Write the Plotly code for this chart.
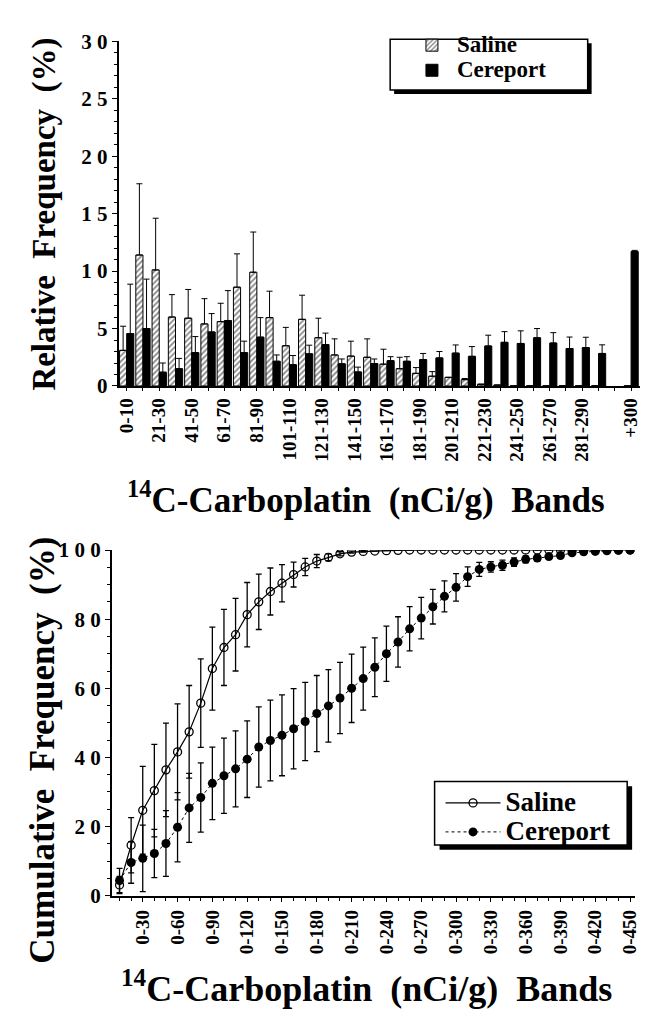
import plotly.graph_objects as go

# ---------------- data: top chart (relative frequency) ----------------
rel_bands = ["0-10", "11-20", "21-30", "31-40", "41-50", "51-60", "61-70", "71-80",
             "81-90", "91-100", "101-110", "111-120", "121-130", "131-140", "141-150",
             "151-160", "161-170", "171-180", "181-190", "191-200", "201-210", "211-220",
             "221-230", "231-240", "241-250", "251-260", "261-270", "271-280", "281-290",
             "291-300", "+300"]
rel_spacer = " "
rel_labeled = ["0-10", "21-30", "41-50", "61-70", "81-90", "101-110", "121-130",
               "141-150", "161-170", "181-190", "201-210", "221-230", "241-250",
               "261-270", "281-290", "+300"]
saline_rel = [3.1, 11.4, 10.1, 6.0, 5.9, 5.4, 5.6, 8.6, 9.9, 5.95, 3.5, 5.8, 4.2, 2.7,
              2.6, 2.5, 1.9, 1.5, 1.1, 0.85, 0.75, 0.55, 0.15, 0.08, 0, 0, 0, 0, 0, 0, 0]
saline_rel_err = [2.1, 6.2, 4.5, 1.95, 2.5, 2.2, 1.6, 2.9, 3.5, 2.3, 1.6, 2.1, 1.7, 1.4,
                  1.3, 1.6, 1.3, 1.0, 0.5, 0.4, 0.0, 0.1, 0.0, 0.0, 0, 0, 0, 0, 0, 0, 0]
cereport_rel = [4.56, 5.0, 1.2, 1.5, 2.9, 4.7, 5.7, 2.9, 4.25, 2.15, 1.85, 2.8, 3.6, 1.93,
                1.22, 1.95, 2.2, 2.15, 2.3, 2.44, 2.86, 2.58, 3.48, 3.8, 3.7, 4.2, 3.74,
                3.26, 3.34, 2.83, 11.7]
cereport_rel_err = [4.3, 4.3, 0.8, 0.9, 1.4, 1.6, 2.6, 1.0, 1.7, 0.55, 0.8, 0.75, 1.0, 0.42,
                    0.42, 0.4, 0.35, 0.4, 0.53, 0.56, 0.71, 0.85, 0.94, 0.93, 1.1, 0.8,
                    0.9, 1.0, 0.9, 0.75, 0.1]

# ---------------- data: bottom chart (cumulative frequency) ----------------
cum_bands = ["0-10", "0-20", "0-30", "0-40", "0-50", "0-60", "0-70", "0-80", "0-90",
             "0-100", "0-110", "0-120", "0-130", "0-140", "0-150", "0-160", "0-170",
             "0-180", "0-190", "0-200", "0-210", "0-220", "0-230", "0-240", "0-250",
             "0-260", "0-270", "0-280", "0-290", "0-300", "0-310", "0-320", "0-330",
             "0-340", "0-350", "0-360", "0-370", "0-380", "0-390", "0-400", "0-410",
             "0-420", "0-430", "0-440", "0-450"]
cum_labeled = ["0-30", "0-60", "0-90", "0-120", "0-150", "0-180", "0-210", "0-240",
               "0-270", "0-300", "0-330", "0-360", "0-390", "0-420", "0-450"]
saline_cum = [3.1, 14.6, 24.7, 30.4, 36.4, 41.6, 47.4, 55.7, 65.7, 71.8, 75.5, 81.3, 85.0,
              88.0, 90.4, 92.9, 95.1, 96.8, 97.9, 98.9, 99.4, 99.6, 99.7, 99.8, 99.9,
              100, 100, 100, 100, 100, 100, 100, 100, 100, 100, 100, 100, 100, 100, 100,
              100, 100, 100, 100, 100]
saline_cum_err = [2.5, 8.0, 12.7, 13.4, 13.5, 13.9, 13.4, 12.8, 12.0, 11.0, 10.5, 9.3, 8.0,
                  6.8, 5.4, 3.6, 2.5, 1.9, 1.0, 0.6, 0.3, 0.2, 0, 0, 0, 0, 0, 0, 0, 0,
                  0, 0, 0, 0, 0, 0, 0, 0, 0, 0, 0, 0, 0, 0, 0]
cereport_cum = [4.4, 9.6, 10.8, 12.2, 15.1, 19.8, 25.4, 28.4, 32.5, 34.7, 36.7, 39.5, 43.0,
                44.9, 46.4, 48.3, 50.4, 52.7, 54.9, 57.2, 60.0, 62.8, 66.1, 70.0, 73.4,
                77.2, 80.3, 83.6, 86.6, 89.2, 92.3, 94.4, 95.1, 95.6, 96.5, 97.3, 97.7,
                98.1, 98.4, 99.2, 99.5, 99.6, 99.8, 99.9, 100]
cereport_cum_err = [3.5, 6.0, 9.6, 7.0, 9.5, 10.0, 10.0, 10.0, 10.5, 10.9, 11.0, 11.1, 11.6,
                    11.7, 11.7, 11.6, 11.3, 11.0, 10.5, 10.3, 9.9, 9.1, 8.5, 8.0, 7.3, 6.4,
                    6.0, 5.0, 4.5, 4.0, 2.8, 2.0, 1.5, 1.5, 1.2, 1.0, 0.8, 0.6, 0.5, 0.3,
                    0.2, 0.1, 0.1, 0, 0]

W, H = 647, 1019
SERIF = "Liberation Serif"


def px(x):
    return x / W


def py(y):
    return 1 - y / H


def big(name, size):
    return "<span style='font-size:%dpx'>%s</span>" % (size, name)


def spaced(label):
    # the original sets the y-axis digits with wide tracking
    return " ".join(label)


# positions on the axes come from the order of the category lists
rel_categories = rel_bands[:-1] + [rel_spacer] + rel_bands[-1:]
rel_x = [rel_categories.index(b) for b in rel_bands]
rel_tickvals = [rel_categories.index(b) for b in rel_labeled]
cum_x = list(range(len(cum_bands)))
cum_tickvals = [cum_bands.index(b) for b in cum_labeled]

rel_yticks = [0, 5, 10, 15, 20, 25, 30]
cum_yticks = [0, 20, 40, 60, 80, 100]

fig = go.Figure()

# ---- top: bars ----
fig.add_trace(go.Bar(
    x=rel_x, y=saline_rel, name=big("Saline", 23), xaxis="x", yaxis="y",
    marker=dict(color="white", line=dict(color="black", width=1),
                pattern=dict(shape="/", fgcolor="black", bgcolor="white", size=4, solidity=0.4)),
    error_y=dict(type="data", array=saline_rel_err, arrayminus=[0] * len(saline_rel),
                 symmetric=False, color="black", thickness=1, width=3),
    legend="legend",
))
fig.add_trace(go.Bar(
    x=rel_x, y=cereport_rel, name=big("Cereport", 23), xaxis="x", yaxis="y",
    marker=dict(color="black", line=dict(color="black", width=1)),
    error_y=dict(type="data", array=cereport_rel_err, arrayminus=[0] * len(cereport_rel),
                 symmetric=False, color="black", thickness=1, width=3),
    legend="legend",
))

# ---- bottom: cumulative lines ----
fig.add_trace(go.Scatter(
    x=cum_x, y=saline_cum, name=big("Saline", 27), xaxis="x2", yaxis="y2",
    mode="lines+markers",
    line=dict(color="black", width=1.2),
    marker=dict(symbol="circle-open", size=8, color="black", line=dict(width=1.3)),
    error_y=dict(type="data", array=saline_cum_err, color="black", thickness=1.3, width=3),
    legend="legend2",
))
fig.add_trace(go.Scatter(
    x=cum_x, y=cereport_cum, name=big("Cereport", 27), xaxis="x2", yaxis="y2",
    mode="lines+markers",
    line=dict(color="black", width=1, dash="dot"),
    marker=dict(symbol="circle", size=9, color="black"),
    error_y=dict(type="data", array=cereport_cum_err, color="black", thickness=1.3, width=3),
    legend="legend2",
))

ytickfont = dict(family=SERIF, size=21, color="black", weight="bold")
xtickfont = dict(family=SERIF, size=19, color="black", weight="bold")

fig.update_layout(
    width=W, height=H,
    margin=dict(l=0, r=0, t=0, b=0),
    paper_bgcolor="white", plot_bgcolor="white",
    barmode="group", bargap=0.12, bargroupgap=0.0,
    font=dict(family=SERIF, color="black"),
    xaxis=dict(domain=[px(117), px(645)], anchor="y",
               range=[-0.5, len(rel_categories) - 0.45],
               tickmode="array", tickvals=rel_tickvals, ticktext=rel_labeled,
               tickangle=-90, tickfont=xtickfont,
               ticks="outside", ticklen=3, tickcolor="black",
               minor=dict(dtick=1, tick0=0, ticks="outside", ticklen=3, tickcolor="black",
                          showgrid=False),
               showline=True, linecolor="black", linewidth=1.5,
               showgrid=False, zeroline=False),
    yaxis=dict(domain=[py(383), py(30)], anchor="x", range=[0, 30],
               tickmode="array", tickvals=rel_yticks,
               ticktext=[spaced(str(v)) for v in rel_yticks],
               tickfont=ytickfont, ticks="outside", ticklen=5, tickcolor="black",
               minor=dict(dtick=1, ticks="outside", ticklen=3, tickcolor="black", showgrid=False),
               showline=True, linecolor="black", linewidth=1.5,
               showgrid=False, zeroline=False),
    xaxis2=dict(domain=[px(110), px(640)], anchor="y2",
                range=[-0.68, len(cum_bands) - 0.57],
                tickmode="array", tickvals=cum_tickvals, ticktext=cum_labeled,
                tickangle=-90, tickfont=xtickfont,
                ticks="outside", ticklen=5, tickcolor="black",
                minor=dict(dtick=1, tick0=0, ticks="outside", ticklen=4, tickcolor="black",
                           showgrid=False),
                showline=True, linecolor="black", linewidth=1.5,
                showgrid=False, zeroline=False),
    yaxis2=dict(domain=[py(905), py(551)], anchor="x2", range=[0, 100],
                tickmode="array", tickvals=cum_yticks,
                ticktext=[spaced(str(v)) for v in cum_yticks],
                tickfont=ytickfont, ticks="outside", ticklen=5, tickcolor="black",
                minor=dict(dtick=5, ticks="outside", ticklen=3, tickcolor="black", showgrid=False),
                showline=True, linecolor="black", linewidth=1.5,
                showgrid=False, zeroline=False),
    legend=dict(x=px(409), y=py(16), xanchor="left", yanchor="top",
                bgcolor="rgba(0,0,0,0)", borderwidth=0,
                font=dict(family=SERIF, size=17, color="black", weight="bold"),
                itemwidth=40, tracegroupgap=0),
    legend2=dict(x=px(443), y=py(790), xanchor="left", yanchor="top",
                 bgcolor="rgba(0,0,0,0)", borderwidth=0,
                 font=dict(family=SERIF, size=20, color="black", weight="bold"),
                 itemwidth=55, tracegroupgap=0),
    showlegend=True,
)

# legend boxes with drop shadows (shadow first, then white box on top)
for (x0, y0, x1, y1, off) in [(392, 28, 592, 80, 4), (437, 788, 632, 853, 5)]:
    fig.add_shape(type="rect", xref="paper", yref="paper",
                  x0=px(x0 + off), x1=px(x1 + off), y0=py(y1 + off), y1=py(y0 + off),
                  fillcolor="black", line=dict(width=0), layer="above")
    fig.add_shape(type="rect", xref="paper", yref="paper",
                  x0=px(x0), x1=px(x1), y0=py(y1), y1=py(y0),
                  fillcolor="white", line=dict(color="black", width=1.5), layer="above")

nb = "\u00a0\u00a0"
fig.add_annotation(text="Relative" + nb + "Frequency" + nb + "(%)", x=px(42), y=py(207),
                   xref="paper", yref="paper", textangle=-90, showarrow=False,
                   font=dict(family=SERIF, size=33, color="black", weight="bold"),
                   xanchor="center", yanchor="middle")
fig.add_annotation(text="<sup>14</sup>C-Carboplatin" + nb + "(nCi/g)" + nb + "Bands",
                   x=px(368), y=py(497), xref="paper", yref="paper", showarrow=False,
                   font=dict(family=SERIF, size=35, color="black", weight="bold"),
                   xanchor="center", yanchor="middle")
fig.add_annotation(text="Cumulative" + nb + "Frequency" + nb + "(%)", x=px(40), y=py(756),
                   xref="paper", yref="paper", textangle=-90, showarrow=False,
                   font=dict(family=SERIF, size=35, color="black", weight="bold"),
                   xanchor="center", yanchor="middle")
fig.add_annotation(text="<sup>14</sup>C-Carboplatin" + nb + "(nCi/g)" + nb + "Bands",
                   x=px(368), y=py(998), xref="paper", yref="paper", showarrow=False,
                   font=dict(family=SERIF, size=36, color="black", weight="bold"),
                   xanchor="center", yanchor="middle")

fig.write_html("out.html")
